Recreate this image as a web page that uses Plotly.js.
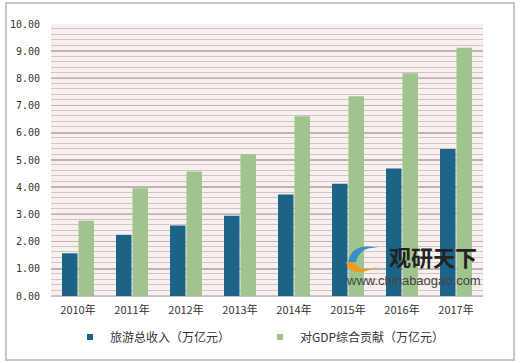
<!DOCTYPE html>
<html>
<head>
<meta charset="utf-8">
<script src="https://cdn.plot.ly/plotly-3.0.1.min.js"></script>
<style>
html,body{margin:0;padding:0;background:#fff;}
#wrap{position:relative;width:520px;height:363px;}
#stripes{position:absolute;left:51px;top:24px;width:432px;height:272px;
  background-color:#f8efef;
  background-image:repeating-linear-gradient(to top, #cfc5c5 0px, #cfc5c5 1px, rgba(0,0,0,0) 1px, rgba(0,0,0,0) 5.44px);
  z-index:0;}
#chart{position:absolute;left:0;top:0;width:520px;height:363px;z-index:1;}
</style>
</head>
<body>
<div id="wrap">
<div id="stripes"></div>
<div id="chart"></div>
</div>
<script>
const years = ["2010年","2011年","2012年","2013年","2014年","2015年","2016年","2017年"];
const seriesNames = ["旅游总收入（万亿元）","对GDP综合贡献（万亿元）"];
const tourismIncome = [1.57, 2.25, 2.59, 2.95, 3.73, 4.13, 4.69, 5.40];
const gdpContribution = [2.77, 3.96, 4.58, 5.21, 6.61, 7.34, 8.19, 9.13];
const yTickVals = [0,1,2,3,4,5,6,7,8,9,10];
const yTickText = ["0.00","1.00","2.00","3.00","4.00","5.00","6.00","7.00","8.00","9.00","10.00"];
const colors = ['#1b6488', '#9fc48e'];

const W = 520, H = 363;
const M = {l:51, r:37, t:24, b:67};
const pw = W - M.l - M.r, ph = H - M.t - M.b;
const px = x => (x - M.l) / pw;
const py = y => (H - M.b - y) / ph;

const font = "'Noto Sans CJK SC', 'DejaVu Sans', sans-serif";

const traces = [
  {type:'bar', name:seriesNames[0], x:years, y:tourismIncome, showlegend:false,
   marker:{color:colors[0], line:{width:0}}},
  {type:'bar', name:seriesNames[1], x:years, y:gdpContribution, showlegend:false,
   marker:{color:colors[1], line:{width:0}}},
  {type:'scatter', mode:'markers', name:seriesNames[0], x:[null], y:[null], showlegend:true,
   marker:{symbol:'square', size:6, color:colors[0]}},
  {type:'scatter', mode:'markers', name:seriesNames[1], x:[null], y:[null], showlegend:true,
   marker:{symbol:'square', size:6, color:colors[1]}}
];

const layout = {
  width: W, height: H,
  margin: M,
  paper_bgcolor: 'rgba(0,0,0,0)',
  plot_bgcolor: 'rgba(0,0,0,0)',
  barmode: 'group',
  bargap: 0.39,
  bargroupgap: 0.06,
  showlegend: true,
  legend: {orientation:'h', xref:'container', yref:'container', x:70/W, xanchor:'left',
           y:(H-337)/H, yanchor:'middle',
           entrywidth:145, entrywidthmode:'pixels', font:{family:font, size:12, color:'#333'},
           itemwidth:30, bgcolor:'rgba(0,0,0,0)'},
  font: {family: font, size: 11, color: '#333'},
  xaxis: {type:'category', showgrid:false, showline:true, linecolor:'#c8c0c0', linewidth:1,
          ticks:'', tickfont:{family:font, size:11, color:'#333'}, ticklabelstandoff:4},
  yaxis: {range:[0,10], tickmode:'array', tickvals:yTickVals, ticktext:yTickText, showgrid:true,
          gridcolor:'#bdb3b3', gridwidth:1.5, zeroline:false, showline:false, ticks:'',
          tickfont:{family:"'DejaVu Sans Mono', monospace", size:10, color:'#333'},
          ticklabelstandoff:10},
  shapes: [
    {type:'rect', xref:'paper', yref:'paper', x0:px(6), x1:px(514), y0:py(360), y1:py(3),
     line:{color:'#c8c8c8', width:2}, fillcolor:'rgba(0,0,0,0)', layer:'below'},
    {type:'path', xref:'paper', yref:'paper',
     path:`M ${px(348)} ${py(262)} Q ${px(352)} ${py(242)} ${px(378)} ${py(248)} Q ${px(360)} ${py(246)} ${px(356)} ${py(262)} Z`,
     fillcolor:'#3a8fc7', line:{width:0}},
    {type:'path', xref:'paper', yref:'paper',
     path:`M ${px(346)} ${py(262)} Q ${px(350)} ${py(280)} ${px(380)} ${py(266)} Q ${px(358)} ${py(274)} ${px(354)} ${py(262)} Z`,
     fillcolor:'#f29a1f', line:{width:0}}
  ],
  annotations: [
    {xref:'paper', yref:'paper', x:px(433), y:py(256), text:'<b>观研天下</b>', showarrow:false,
     font:{family:font, size:22, color:'#222'}, xanchor:'center', yanchor:'middle'},
    {xref:'paper', yref:'paper', x:px(413), y:py(280), text:'www.chinabaogao.com', showarrow:false,
     font:{family:"'Liberation Sans', Arial, sans-serif", size:13, color:'#444'}, xanchor:'center', yanchor:'middle'}
  ]
};

Plotly.newPlot('chart', traces, layout, {displayModeBar:false, staticPlot:true});
</script>
</body>
</html>
